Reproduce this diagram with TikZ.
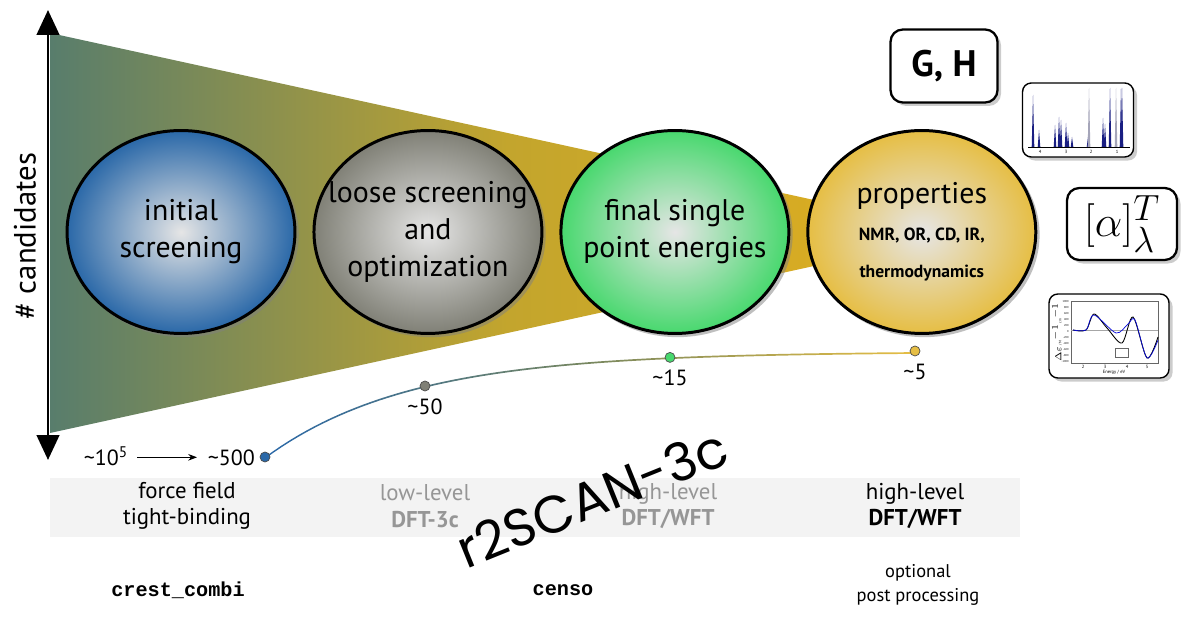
\documentclass[tikz,border=0pt]{standalone}
\usepackage{fontspec}
\setmainfont{PT Sans}
\newfontfamily\codefont{Liberation Mono}
\newfontfamily\handfont{Poppins}
\usepackage{amsmath}
\usetikzlibrary{arrows.meta,shapes.geometric,shadows,positioning}

\definecolor{funnelL}{RGB}{88,125,108}
\definecolor{funnelM}{RGB}{195,165,45}
\definecolor{funnelR}{RGB}{225,175,30}
\definecolor{stageblue}{RGB}{42,104,168}
\definecolor{stagegray}{RGB}{128,128,118}
\definecolor{stagegreen}{RGB}{72,216,110}
\definecolor{stagegold}{RGB}{230,190,68}
\definecolor{curvemid}{RGB}{120,135,95}
\definecolor{lowtext}{RGB}{150,150,150}
\definecolor{bandgray}{RGB}{243,243,243}
\definecolor{nmrblue}{RGB}{25,30,130}
\definecolor{nmrgray}{RGB}{165,165,185}

\newcommand\propsmall{\bfseries\fontsize{10}{19}\selectfont}

\tikzset{
  stage/.style={ellipse, draw=black, line width=1.7pt, minimum width=4.56cm, minimum height=4.06cm,
    inner color=white!90!black, outer color=#1,
    drop shadow={opacity=0.5, shadow xshift=1.5pt, shadow yshift=-1.5pt, shadow scale=1.01}},
  stagetext/.style={align=center, font=\fontsize{17}{21}\selectfont},
  stagedot/.style={circle, draw=black!70, line width=0.4pt, inner sep=0pt, minimum size=0.2cm},
  countlabel/.style={font=\fontsize{12.5}{15}\selectfont, inner sep=1pt},
  methodlabel/.style={align=center, font=\fontsize{13}{15}\selectfont},
  toollabel/.style={font=\codefont\bfseries\fontsize{11.5}{14}\selectfont},
  infobox/.style={draw=black, rounded corners=7pt, fill=white, line width=1.3pt,
    drop shadow={opacity=0.4, shadow xshift=2pt, shadow yshift=-2pt}},
  tinylabel/.style={font=\fontsize{2.6}{3}\selectfont, inner sep=0pt},
}

\begin{document}
\begin{tikzpicture}[x=0.02cm, y=-0.02cm]
    \useasboundingbox (0,0) rectangle (1192,617);

    %% funnel and axis
    \shade[left color=funnelL, right color=funnelR, middle color=funnelM] (50,33) -- (965,233) -- (50,433) -- cycle;
    \coordinate (axtop) at (48,10);
    \coordinate (axbot) at (48,460);
    \draw[line width=1.7pt, {Triangle[length=0.5cm,width=0.45cm]}-{Triangle[length=0.5cm,width=0.45cm]}] (axtop) -- (axbot);
    \node[rotate=90, font=\fontsize{17.5}{20}\selectfont] (ylab) at (25,236) {\# candidates};

    %% method band
    \fill[bandgray] (50,478) rectangle (1020,537);

    %% stages
    \node[stage=stageblue, label={[stagetext]center:{initial\\screening}}] (init) at (181,232) {};
    \node[stage=stagegray, right=0.32cm of init, label={[stagetext]center:{loose screening\\and\\optimization}}] (loose) {};
    \node[stage=stagegreen, right=0.32cm of loose, label={[stagetext]center:{final single\\point energies}}] (final) {};
    \node[stage=stagegold, right=0.32cm of final,
          label={[stagetext]center:{properties\\\propsmall NMR, OR, CD, IR,\\\propsmall thermodynamics}}] (prop) {};

    %% number of candidates
    \shade[left color=stageblue, right color=stagegold, middle color=curvemid]
        plot[domain=265:915, samples=80] (\x, {351+106*exp(-(\x-265)/144)})
        -- plot[domain=915:265, samples=80] (\x, {352.7+106*exp(-(\x-265)/144)}) -- cycle;
    \node[stagedot, fill=stageblue] (d500) at (265,457) {};
    \node[stagedot, fill=stagegray] (d50) at (425,386) {};
    \node[stagedot, fill=stagegreen] (d15) at (670,357.4) {};
    \node[stagedot, fill=stagegold] (d5) at (915,351) {};
    \node[countlabel, anchor=base east] (n500) at (257,465) {\textasciitilde500};
    \node[countlabel, anchor=base] (n105) at (106,465) {\textasciitilde10\textsuperscript{5}};
    \draw[-{Stealth[length=5pt]}, line width=0.6pt] ([xshift=4pt]n105.east |- n500.west) -- ([xshift=-5pt]n500.west);
    \node[countlabel, below=3pt of d50] (n50) {\textasciitilde50};
    \node[countlabel, below=3pt of d15] (n15) {\textasciitilde15};
    \node[countlabel, below=3pt of d5] (n5) {\textasciitilde5};

    %% level of theory
    \node[methodlabel] (ff) at (187,506) {force field\\tight-binding};
    \node[methodlabel, text=lowtext] (low) at (425,506) {low-level\\\textbf{DFT-3c}};
    \node[methodlabel, text=lowtext] (high) at (668,506) {high-level\\\textbf{DFT/WFT}};
    \node[methodlabel] (post) at (915,506) {high-level\\\textbf{DFT/WFT}};

    %% programs
    \node[toollabel] (crest) at (178,590) {crest\_combi};
    \node[toollabel] (censo) at (563,590) {censo};
    \node[align=center, font=\fontsize{10.5}{14}\selectfont] (opt) at (918,585) {optional\\post processing};

    %% property boxes
    \node[infobox, minimum width=2.14cm, minimum height=1.46cm, font=\bfseries\fontsize{21}{24}\selectfont] (gh) at (944,66) {G, H};
    \node[infobox, line width=0.8pt, rounded corners=5pt, minimum width=2.22cm, minimum height=1.48cm] (nmr) at (1078,120) {};
    \node[infobox, minimum width=2.2cm, minimum height=1.44cm, font=\Huge] (alpha) at (1122,224) {$[\alpha]^T_\lambda$};
    \node[infobox, line width=0.8pt, rounded corners=5pt, minimum width=2.4cm, minimum height=1.68cm] (cd) at (1109,336) {};

    %% nmr spectrum
    \draw[line width=0.3pt] (1028,147) -- (1130,147);
    \foreach \px/\pt/\pc in {1033/95/nmrblue, 1039/130/nmrblue, 1055/125/nmrblue, 1059/117/nmrblue,
        1061/120/nmrblue, 1066/123/nmrblue, 1068/133/nmrblue, 1072/137/nmrblue, 1088/137/nmrblue,
        1089/88/nmrgray, 1103/118/nmrblue, 1105/124/nmrblue, 1110/88/nmrblue, 1116/88/nmrgray,
        1121/88/nmrblue, 1122/88/nmrblue}
        \fill[\pc] (\px-1.3,147) -- (\px,\pt) -- (\px+1.3,147) -- cycle;
    \foreach \nx/\nl in {1040/4, 1066/3, 1091/2, 1117/1}
        \node[tinylabel] at (\nx,152) {\nl};

    %% cd spectrum
    \draw[black!60, line width=0.25pt] (1071,301) rectangle (1158,363);
    \draw[black!35, line width=0.2pt] (1071,330) -- (1158,330);
    \draw[line width=0.5pt] plot[smooth] coordinates {(1073,330) (1086,330) (1094,314) (1107,328) (1122,343)
        (1133,317) (1147,358) (1158,337)};
    \draw[blue!70!nmrblue, line width=0.4pt] plot[smooth] coordinates {(1073,330) (1086,330) (1094,315) (1116,333)
        (1128,324) (1135,320) (1147,358) (1158,340)};
    \draw[black!60, line width=0.25pt] (1115,348) rectangle (1128,357);
    \foreach \ex/\el in {1083/2, 1105/3, 1127/4, 1147/5}
        \node[tinylabel] at (\ex,367) {\el};
    \foreach \yv [count=\i from 0] in {1000,800,...,-1000}
        \node[tinylabel, font=\fontsize{1.6}{2}\selectfont, anchor=east] at (1069,{302+6*\i}) {\yv};
    \node[tinylabel] at (1114,372) {Energy / eV};
    \node[tinylabel, font=\fontsize{2}{2}\selectfont, rotate=90] at (1057,332) {$\Delta\varepsilon$ / M$^{-1}$ cm$^{-1}$};

    %% note
    \node[rotate=22, font=\handfont\fontsize{30}{30}\selectfont] (r2scan) at (592,498) {r2SCAN-3c};
\end{tikzpicture}
\end{document}
